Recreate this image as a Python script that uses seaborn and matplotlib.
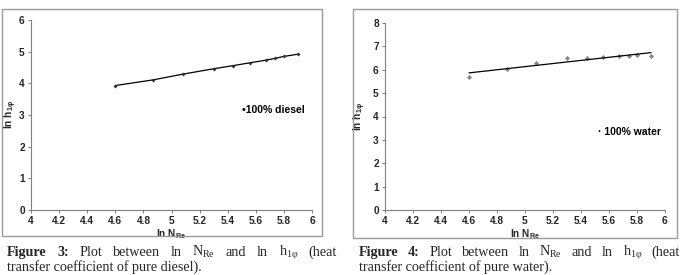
import numpy as np
import pandas as pd
import matplotlib
matplotlib.use("Agg")
import matplotlib.pyplot as plt
import seaborn as sns
from matplotlib.patches import Rectangle

ln_re = [4.6, 4.87, 5.08, 5.3, 5.44, 5.56, 5.67, 5.74, 5.8, 5.9]
ln_h_diesel = [3.93, 4.11, 4.29, 4.46, 4.56, 4.65, 4.73, 4.79, 4.85, 4.92]
ln_h_water = [5.69, 6.03, 6.31, 6.51, 6.51, 6.54, 6.57, 6.60, 6.61, 6.60]
x_ticks = [4, 4.2, 4.4, 4.6, 4.8, 5, 5.2, 5.4, 5.6, 5.8, 6]
x_tick_labels = ["4", "4.2", "4.4", "4.6", "4.8", "5", "5.2", "5.4", "5.6", "5.8", "6"]

sns.set_style("white")
plt.rcParams['font.family'] = ['Liberation Sans', 'DejaVu Sans']
plt.rcParams['mathtext.fontset'] = 'custom'
plt.rcParams['mathtext.rm'] = 'Liberation Serif'
plt.rcParams['mathtext.bf'] = 'Liberation Serif:bold'
plt.rcParams['mathtext.it'] = 'Liberation Serif:italic'
plt.rcParams['mathtext.sf'] = 'Liberation Sans:bold'

W, H = 684, 275
fig = plt.figure(figsize=(W / 100, H / 100), dpi=100)

def px_axes(x0, x1, ytop, ybot):
    return fig.add_axes([x0 / W, (H - ybot) / H, (x1 - x0) / W, (ybot - ytop) / H])

def frame(x0, x1, ytop, ybot):
    fig.patches.append(Rectangle((x0 / W, (H - ybot) / H), (x1 - x0) / W, (ybot - ytop) / H,
                                 transform=fig.transFigure, fill=False,
                                 edgecolor="#9a9a9a", linewidth=1.0))

frame(2, 322, 9, 236)
frame(353, 677, 9, 238)

df_d = pd.DataFrame({"x": ln_re, "y": ln_h_diesel})
df_w = pd.DataFrame({"x": ln_re, "y": ln_h_water})

def style_axes(ax, ymax, x0, ylab_x):
    ax.set_xlim(4, 6)
    ax.set_ylim(0, ymax)
    ax.set_xticks(x_ticks)
    ax.set_xticklabels(x_tick_labels)
    ax.set_yticks(range(0, ymax + 1))
    for s in ["top", "right"]:
        ax.spines[s].set_visible(False)
    for s in ["left", "bottom"]:
        ax.spines[s].set_color("#808080")
        ax.spines[s].set_linewidth(0.8)
    ax.tick_params(axis="both", direction="out", length=2.5, width=0.7, color="#808080",
                   labelsize=7.3, pad=2, bottom=True, left=True)
    for lbl in ax.get_xticklabels() + ax.get_yticklabels():
        lbl.set_fontweight("bold")
    ax.set_xlabel(r"ln N$_{\mathsf{Re}}$", fontsize=7.3, fontweight="bold", labelpad=1)
    ax.set_ylabel("ln h$_{\\mathsf{1φ}}$", fontsize=7.3, fontweight="bold")
    bb = ax.get_position()
    ax.yaxis.set_label_coords((ylab_x - x0) / (bb.width * W), 0.5)
    ax.yaxis.label.set_va("center")
    ax.set_facecolor("none")

# Left chart: diesel
ax1 = px_axes(31, 312, 20, 210)
sns.lineplot(data=df_d, x="x", y="y", ax=ax1, color="black", linewidth=0.9,
             marker="D", markersize=2.0, markeredgewidth=0, markerfacecolor="#333333")
style_axes(ax1, 6, 31, 11)
ax1.text(5.5, 3.15, "\u2022100% diesel", fontsize=7.5, fontweight="bold", va="center", ha="left",
         color="black")

# Right chart: water
ax2 = px_axes(385, 665, 23, 210)
coef = np.polyfit(ln_re, ln_h_water, 1)
fit_x = np.array([min(ln_re), max(ln_re)])
df_fit = pd.DataFrame({"x": fit_x, "y": np.polyval(coef, fit_x)})
sns.lineplot(data=df_fit, x="x", y="y", ax=ax2, color="black", linewidth=0.9)
sns.scatterplot(data=df_w, x="x", y="y", ax=ax2, color="#8a8a8a", marker="D", s=7, linewidth=0)
style_axes(ax2, 8, 385, 360)
ax2.text(5.52, 3.35, "\u00b7 100% water", fontsize=7.5, fontweight="bold", va="center", ha="left",
         color="black")

# Captions (first line justified)
cap_fs = 10.2
renderer = fig.canvas.get_renderer()

def justified_line(words, x0, x1, ybase):
    texts = []
    for w, bold in words:
        t = fig.text(0, 1 - ybase / H, w, fontsize=cap_fs, va="baseline", ha="left",
                     family="Liberation Serif", fontweight="bold" if bold else "normal")
        texts.append(t)
    widths = [t.get_window_extent(renderer).width for t in texts]
    gap = ((x1 - x0) - sum(widths)) / (len(texts) - 1)
    x = x0
    for t, w in zip(texts, widths):
        t.set_x(x / W)
        x += w + gap

def caption(num, tail, x0, x1):
    words = [("Figure", True), (f"{num}:", True), ("Plot", False), ("between", False),
             ("ln", False), (r"N$_{\rm Re}$", False), ("and", False), ("ln", False),
             ("h$_{\\rm 1φ}$", False), ("(heat", False)]
    justified_line(words, x0, x1, 256)
    fig.text(x0 / W, 1 - 271 / H, tail, fontsize=cap_fs, va="baseline", ha="left",
             family="Liberation Serif")

caption(3, "transfer coefficient of pure diesel).", 7, 337)
caption(4, "transfer coefficient of pure water).", 359, 680)

fig.savefig("out.png", dpi=100)
